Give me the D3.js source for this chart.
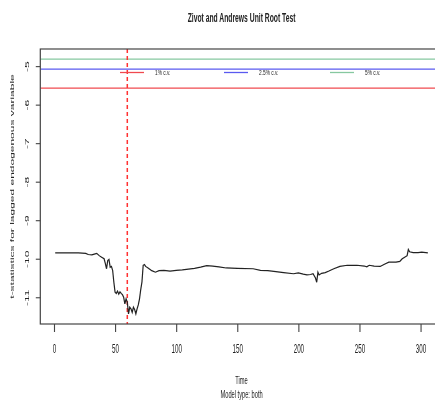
<!DOCTYPE html>
<html><head><meta charset="utf-8">
<script src="https://cdn.jsdelivr.net/npm/d3@7"></script>
<style>body{margin:0;background:#fff} svg{display:block}</style>
</head><body>
<svg id="chart" width="435" height="403"></svg>
<script>
// Zivot–Andrews recursive t-statistics by observation index
const timeIdx = [1,10,20,26,28,31,33,35,37,39,41,42,43,44,45,46,47,48,49,50,51,52,53,54,55,56,57,58,59,60,61,62,63,64,65,66,67,68,69,70,71,72,73,74,75,77,80,83,86,90,95,100,105,110,115,120,125,130,135,141,150,163,169,175,180,188,196,200,204,207,210,212,214,215,216,217,219,222,225,229,234,240,248,254,256,258,262,267,270,274,280,283,285,287,289,290,291,294,298,301,306];
const tStat = [-9.85,-9.85,-9.85,-9.86,-9.89,-9.90,-9.88,-9.86,-9.92,-9.96,-10.00,-10.12,-10.26,-10.05,-10.02,-10.22,-10.20,-10.30,-10.61,-10.87,-10.90,-10.84,-10.92,-10.86,-10.90,-10.93,-11.00,-11.17,-11.04,-11.13,-11.43,-11.26,-11.30,-11.39,-11.26,-11.32,-11.43,-11.30,-11.20,-11.04,-10.80,-10.60,-10.17,-10.15,-10.20,-10.24,-10.31,-10.35,-10.31,-10.30,-10.32,-10.30,-10.29,-10.27,-10.25,-10.22,-10.18,-10.19,-10.21,-10.24,-10.25,-10.26,-10.30,-10.31,-10.33,-10.36,-10.39,-10.37,-10.40,-10.42,-10.41,-10.39,-10.50,-10.61,-10.35,-10.42,-10.38,-10.36,-10.32,-10.26,-10.20,-10.17,-10.17,-10.19,-10.21,-10.17,-10.19,-10.20,-10.15,-10.09,-10.09,-10.07,-10.00,-9.96,-9.92,-9.76,-9.82,-9.84,-9.84,-9.83,-9.85];

// Critical values (horizontal reference lines) and legend
const critLabels = ["1% c.v.", "2.5% c.v.", "5% c.v."];
const critValues = [-5.57, -5.08, -4.82];
const critColors = ["#f04a4f", "#5a5af0", "#86c8a0"];
const breakPoint = 60;

const xTicks = [0, 50, 100, 150, 200, 250, 300];
const yTicks = [-11, -10, -9, -8, -7, -6, -5];

const titleText = "Zivot and Andrews Unit Root Test";
const xLabel = "Time";
const yLabel = "t-statistics for lagged endogenous variable";
const subLabel = "Model type: both";

const svg = d3.select("#chart");
const defs = svg.append("defs");
defs.append("filter").attr("id", "soft")
  .append("feGaussianBlur").attr("stdDeviation", 0.45);
const root = svg.append("g").attr("filter", "url(#soft)");

const plot = {left: 40.3, right: 442.8, top: 49, bottom: 324};
const sx = 0.52; // narrow text

// R-style 4% padding of the data range
const pad = ([lo, hi]) => { const d = (hi - lo) * 0.04; return [lo - d, hi + d]; };
const x = d3.scaleLinear().domain(pad(d3.extent(timeIdx))).range([plot.left, plot.right]);
const y = d3.scaleLinear().domain(pad(d3.extent(tStat.concat(critValues)))).range([plot.bottom, plot.top]);

function text(g, str, tx, ty, opts = {}) {
  const rot = opts.rotate ? ` rotate(${opts.rotate})` : "";
  return g.append("text")
    .attr("transform", `translate(${tx},${ty}) scale(${opts.sx || sx},1)${rot}`)
    .attr("text-anchor", opts.anchor || "middle")
    .attr("dy", opts.dy || "0.35em")
    .attr("font-family", "Liberation Sans, Arial, sans-serif")
    .attr("font-size", opts.size || 12)
    .attr("font-weight", opts.weight || "normal")
    .attr("fill", opts.fill || "#222")
    .text(str);
}

// clip to plot region
defs.append("clipPath").attr("id", "plotClip")
  .append("rect").attr("x", plot.left).attr("y", plot.top)
  .attr("width", plot.right - plot.left).attr("height", plot.bottom - plot.top);

const inner = root.append("g").attr("clip-path", "url(#plotClip)");

// critical value lines
inner.selectAll("line.cv").data(critValues).join("line")
  .attr("class", "cv")
  .attr("x1", plot.left).attr("x2", plot.right)
  .attr("y1", d => y(d)).attr("y2", d => y(d))
  .attr("stroke", (d, i) => critColors[i]).attr("stroke-width", 1.3);

// break point
inner.append("line")
  .attr("x1", x(breakPoint)).attr("x2", x(breakPoint))
  .attr("y1", plot.top).attr("y2", plot.bottom)
  .attr("stroke", "#ff3030").attr("stroke-width", 1.5)
  .attr("stroke-dasharray", "4,3");

// t-statistic series
inner.append("path")
  .datum(timeIdx.map((t, i) => [t, tStat[i]]))
  .attr("d", d3.line().x(d => x(d[0])).y(d => y(d[1])))
  .attr("fill", "none").attr("stroke", "#222").attr("stroke-width", 1.2);

// box
root.append("rect")
  .attr("x", plot.left).attr("y", plot.top)
  .attr("width", plot.right - plot.left).attr("height", plot.bottom - plot.top)
  .attr("fill", "none").attr("stroke", "#444").attr("stroke-width", 1.2);

// x axis
const xAxis = root.append("g").attr("transform", `translate(0,${plot.bottom})`)
  .call(d3.axisBottom(x).tickValues(xTicks).tickSize(8).tickPadding(0).tickFormat(d => String(d)));
xAxis.select(".domain").remove();
xAxis.selectAll(".tick line").attr("stroke", "#444").attr("stroke-width", 1.1);
xAxis.selectAll(".tick text").each(function () {
  d3.select(this).attr("y", 25).attr("dy", "0.35em")
    .attr("transform", `scale(${sx},1)`)
    .attr("font-family", "Liberation Sans, Arial, sans-serif")
    .attr("font-size", 12).attr("fill", "#222");
});

// y axis
const yAxis = root.append("g").attr("transform", `translate(${plot.left},0)`)
  .call(d3.axisLeft(y).tickValues(yTicks).tickSize(4.5).tickFormat(d => String(d)));
yAxis.select(".domain").remove();
yAxis.selectAll(".tick line").attr("stroke", "#444").attr("stroke-width", 1.1);
yAxis.selectAll(".tick text").each(function () {
  d3.select(this).attr("x", null).attr("dy", "0.35em")
    .attr("text-anchor", "middle")
    .attr("transform", `translate(-13,0) scale(${sx},1) rotate(-90)`)
    .attr("font-family", "Liberation Sans, Arial, sans-serif")
    .attr("font-size", 12).attr("fill", "#222");
});

// titles
const cx = (plot.left + plot.right) / 2;
text(root, titleText, cx, 17, {size: 13, weight: "bold"});
text(root, xLabel, cx, 380, {size: 11});
text(root, subLabel, cx, 394, {size: 11});
text(root, yLabel, 12, (plot.top + plot.bottom) / 2, {size: 12, rotate: -90});

// legend
const legendX = [120, 224, 330];
const leg = root.append("g");
critLabels.forEach((lab, i) => {
  leg.append("line")
    .attr("x1", legendX[i]).attr("x2", legendX[i] + 24)
    .attr("y1", 72.5).attr("y2", 72.5)
    .attr("stroke", critColors[i]).attr("stroke-width", 1.3);
  text(leg, lab, legendX[i] + 35, 72.5, {size: 8, anchor: "start", sx: 0.6});
});
</script>
</body></html>
